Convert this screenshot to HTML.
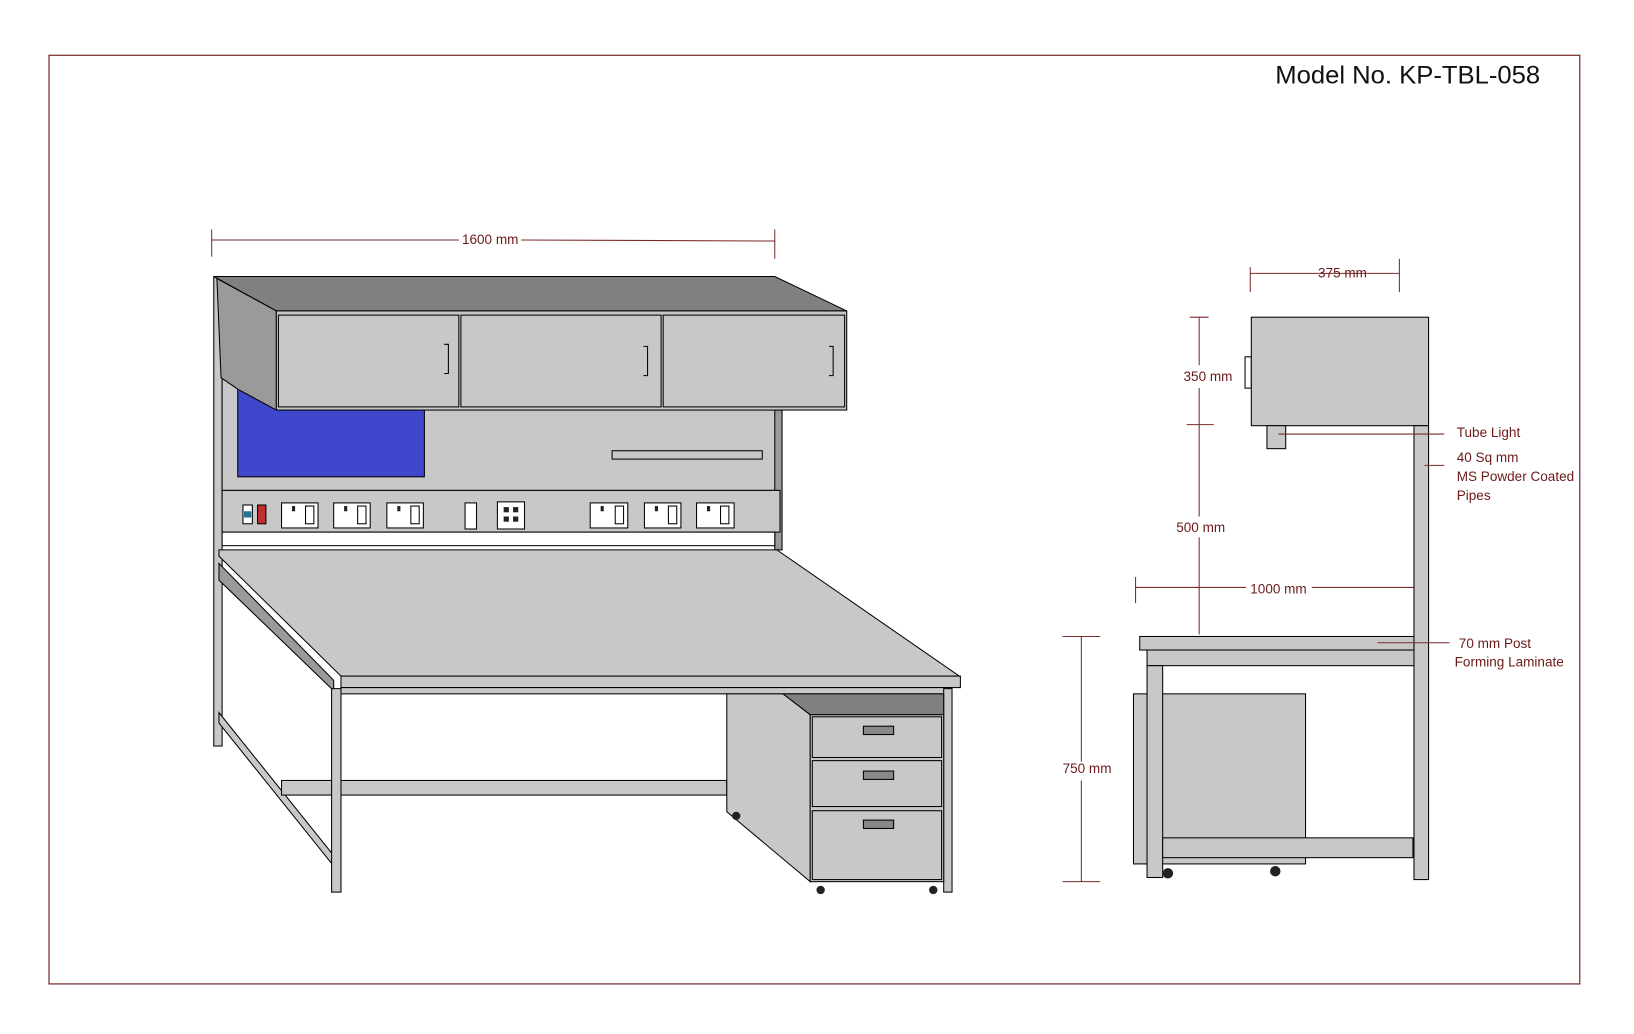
<!DOCTYPE html>
<html><head><meta charset="utf-8"><style>
html,body{margin:0;padding:0;background:#fff;}
svg{display:block}
text{font-family:"Liberation Sans",sans-serif;}
</style></head><body>
<svg width="1634" height="1034" viewBox="0 0 1567 991" preserveAspectRatio="none" xmlns="http://www.w3.org/2000/svg">
<rect x="0" y="0" width="1567" height="991" fill="#fff"/>
<rect x="47" y="53" width="1468" height="890" fill="none" stroke="#7a3030" stroke-width="1.2"/>
<text x="1223" y="80" font-size="24" fill="#111" textLength="254" lengthAdjust="spacingAndGlyphs">Model No. KP-TBL-058</text>

<g stroke="#7a2a2a" stroke-width="1" fill="none">
<line x1="203" y1="230" x2="440" y2="230"/><line x1="500" y1="230" x2="743" y2="231"/>
<line x1="203" y1="220" x2="203" y2="246"/><line x1="743" y1="220" x2="743" y2="248"/>
</g>
<text x="443" y="234" font-size="13" fill="#6b1a1a">1600 mm</text>

<g stroke="#000" stroke-width="1">
<rect x="205" y="265" width="8" height="450" fill="#c8c8c8"/>
<rect x="213" y="362" width="535" height="108" fill="#c8c8c8"/>
<rect x="228" y="373" width="179" height="84" fill="#3f48cc"/>
<rect x="587" y="432" width="144" height="8" fill="#c8c8c8"/>
<rect x="743" y="393" width="7" height="134" fill="#9a9a9a"/>
<polygon points="205,265 743,265 812,298 265,298" fill="#808080"/>
<polygon points="208,267 265,298 265,393 228,373 212,362" fill="#9a9a9a"/>
<rect x="265" y="298" width="547" height="95" fill="#c8c8c8"/>
<rect x="267" y="302" width="173" height="88" fill="#c8c8c8"/>
<rect x="442" y="302" width="192" height="88" fill="#c8c8c8"/>
<rect x="636" y="302" width="174" height="88" fill="#c8c8c8"/>
<g fill="none"><path d="M426 330h4v28h-4M617 332h4v28h-4M795 332h4v28h-4"/></g>
<rect x="213" y="470" width="535" height="40" fill="#c8c8c8"/>
<rect x="213" y="510" width="530" height="13" fill="#fff"/>
<rect x="233" y="484" width="9" height="18" fill="#fff"/>
<rect x="234" y="490" width="7" height="6" fill="#2a7090" stroke="none"/>
<rect x="247" y="484" width="8" height="18" fill="#c03030"/>
<g fill="#fff">
<rect x="270" y="482" width="35" height="24"/><rect x="320" y="482" width="35" height="24"/><rect x="371" y="482" width="35" height="24"/>
<rect x="566" y="482" width="36" height="24"/><rect x="618" y="482" width="35" height="24"/><rect x="668" y="482" width="36" height="24"/>
<rect x="446" y="482" width="11" height="25"/><rect x="477" y="481" width="26" height="26"/>
<rect x="293" y="485" width="8" height="17"/><rect x="343" y="485" width="8" height="17"/><rect x="394" y="485" width="8" height="17"/>
<rect x="590" y="485" width="8" height="17"/><rect x="641" y="485" width="8" height="17"/><rect x="691" y="485" width="8" height="17"/>
</g>
<g fill="#222" stroke="none">
<rect x="483" y="486" width="5" height="5"/><rect x="492" y="486" width="5" height="5"/><rect x="483" y="495" width="5" height="5"/><rect x="492" y="495" width="5" height="5"/>
<rect x="280" y="485" width="3" height="5"/><rect x="330" y="485" width="3" height="5"/><rect x="381" y="485" width="3" height="5"/>
<rect x="576" y="485" width="3" height="5"/><rect x="628" y="485" width="3" height="5"/><rect x="678" y="485" width="3" height="5"/>
</g>
<polygon points="210,540 320,652 320,662 210,556" fill="#9a9a9a"/>
<polygon points="210,527 745,527 920,648 327,648 210,533" fill="#c8c8c8"/>
<rect x="327" y="648" width="594" height="11" fill="#c8c8c8"/>
<rect x="327" y="659" width="585" height="6" fill="#c8c8c8"/>
<polygon points="210,683 320,820 320,830 210,693" fill="#c8c8c8"/>
<rect x="270" y="748" width="427" height="14" fill="#c8c8c8"/>
<rect x="318" y="660" width="9" height="195" fill="#c8c8c8"/>
<rect x="905" y="660" width="8" height="195" fill="#c8c8c8"/>
<polygon points="697,665 751,665 777,685 777,845 697,778" fill="#c8c8c8"/>
<polygon points="751,665 905,665 905,685 777,685" fill="#808080"/>
<rect x="777" y="685" width="128" height="160" fill="#c8c8c8"/>
<rect x="779" y="687" width="124" height="39" fill="#c8c8c8"/>
<rect x="779" y="729" width="124" height="44" fill="#c8c8c8"/>
<rect x="779" y="777" width="124" height="66" fill="#c8c8c8"/>
<rect x="828" y="696" width="29" height="8" fill="#888"/>
<rect x="828" y="739" width="29" height="8" fill="#888"/>
<rect x="828" y="786" width="29" height="8" fill="#888"/>
</g>
<g fill="#222"><circle cx="706" cy="782" r="4"/><circle cx="787" cy="853" r="4"/><circle cx="895" cy="853" r="4"/></g>

<g stroke="#7a2a2a" stroke-width="1" fill="none">
<line x1="1199" y1="262" x2="1342" y2="262"/><line x1="1199" y1="256" x2="1199" y2="280"/><line x1="1342" y1="248" x2="1342" y2="280"/>
<line x1="1150" y1="304" x2="1150" y2="350"/><line x1="1150" y1="372" x2="1150" y2="495"/><line x1="1150" y1="515" x2="1150" y2="608"/>
<line x1="1141" y1="304" x2="1159" y2="304"/><line x1="1138" y1="407" x2="1164" y2="407"/>
<line x1="1089" y1="563" x2="1195" y2="563"/><line x1="1258" y1="563" x2="1370" y2="563"/><line x1="1089" y1="553" x2="1089" y2="578"/>
<line x1="1037" y1="610" x2="1037" y2="730"/><line x1="1037" y1="748" x2="1037" y2="845"/>
<line x1="1019" y1="610" x2="1055" y2="610"/><line x1="1019" y1="845" x2="1055" y2="845"/>
</g>
<g stroke="#000" stroke-width="1" fill="#c8c8c8">
<rect x="1194" y="342" width="6" height="30" fill="#fff"/>
<rect x="1200" y="304" width="170" height="104"/>
<rect x="1215" y="408" width="18" height="22"/>
<rect x="1356" y="408" width="14" height="435"/>
<rect x="1087" y="665" width="165" height="163"/>
<rect x="1093" y="610" width="263" height="13"/>
<rect x="1100" y="623" width="256" height="15"/>
<rect x="1100" y="638" width="15" height="203"/>
<rect x="1115" y="803" width="240" height="19"/>
</g>
<g fill="#222"><circle cx="1120" cy="837" r="5"/><circle cx="1223" cy="835" r="5"/></g>
<g stroke="#7a2a2a" stroke-width="1">
<line x1="1226" y1="416" x2="1385" y2="416"/>
<line x1="1366" y1="446" x2="1385" y2="446"/>
<line x1="1321" y1="616" x2="1390" y2="616"/>
</g>
<g font-size="13" fill="#6b1a1a">
<text x="1264" y="266">375 mm</text>
<text x="1135" y="365">350 mm</text>
<text x="1128" y="510">500 mm</text>
<text x="1199" y="569">1000 mm</text>
<text x="1019" y="741">750 mm</text>
<text x="1397" y="419">Tube Light</text>
<text x="1397" y="443">40 Sq mm</text>
<text x="1397" y="461">MS Powder Coated</text>
<text x="1397" y="479">Pipes</text>
<text x="1399" y="621">70 mm Post</text>
<text x="1395" y="639">Forming Laminate</text>
</g>
</svg>
</body></html>
